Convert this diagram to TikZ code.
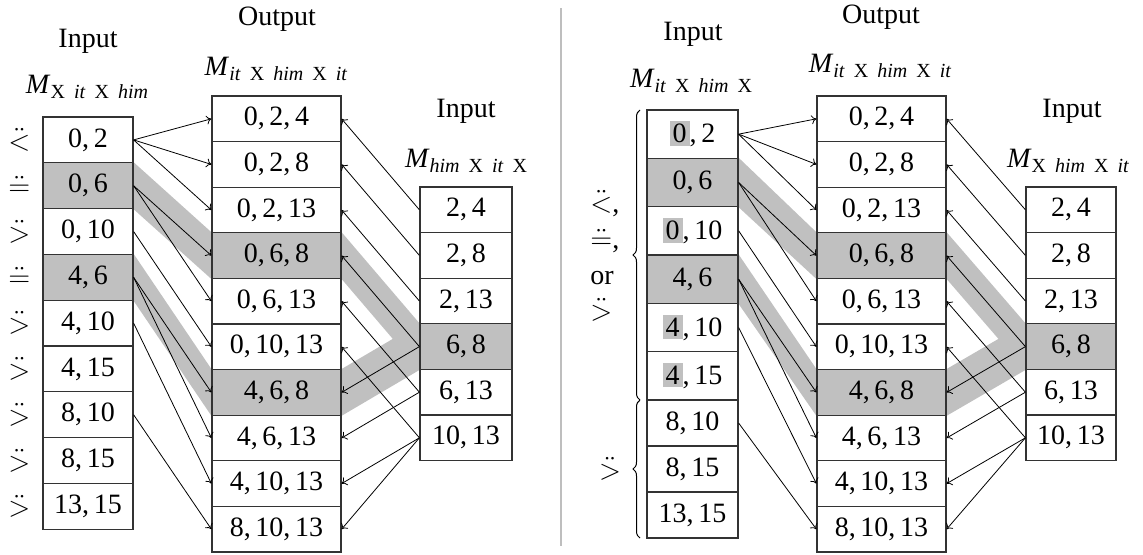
\documentclass[tikz,border=0pt]{standalone}
\usepackage{fontspec}
\setmainfont{Liberation Serif}
\usetikzlibrary{arrows.meta,decorations.pathreplacing,backgrounds}
\definecolor{lightg}{RGB}{192,192,192}
\definecolor{sepg}{RGB}{190,190,190}
\newcommand{\hlz}[1]{{\setlength{\fboxsep}{1.5pt}\colorbox{lightg}{#1}}}
\newcommand{\sx}{\hspace{4.5pt}}
\newcommand{\Msub}[1]{\textit{M}\raisebox{-2.5pt}{\fontsize{10pt}{12pt}\selectfont #1}}
\tikzset{
  cell/.style={draw=black!80, line width=0.6pt, inner sep=0pt, font=\fontsize{14pt}{17pt}\selectfont},
  lnk/.style={-{To[length=2.5pt,width=4.5pt]}, line width=0.4pt},
  hdr/.style={anchor=base, inner sep=0pt, font=\fontsize{14pt}{17pt}\selectfont},
  sym/.style={inner sep=0pt, font=\fontsize{14pt}{18pt}\selectfont},
  bracestyle/.style={decorate, decoration={brace, amplitude=3.5pt}, line width=0.5pt}
}
\begin{document}
\begin{tikzpicture}[x=0.5pt,y=-0.5pt]
\useasboundingbox (0,0) rectangle (1143,554);
% separator
\draw[sepg, line width=0.6pt] (561,8) -- (561,546);
% ---------- left panel ----------
\foreach \t/\f [count=\i] in {{0,\,2}/white,{0,\,6}/lightg,{0,\,10}/white,{4,\,6}/lightg,{4,\,10}/white,{4,\,15}/white,{8,\,10}/white,{8,\,15}/white,{13,\,15}/white}
  \node[cell, fill=\f, minimum width=45pt, minimum height=22.9pt] (A\i) at (88,{117+45.8*(\i-0.5)}) {\t};
\foreach \t/\f [count=\i] in {{0,\,2,\,4}/white,{0,\,2,\,8}/white,{0,\,2,\,13}/white,{0,\,6,\,8}/lightg,{0,\,6,\,13}/white,{0,\,10,\,13}/white,{4,\,6,\,8}/lightg,{4,\,6,\,13}/white,{4,\,10,\,13}/white,{8,\,10,\,13}/white}
  \node[cell, fill=\f, minimum width=64.5pt, minimum height=22.8pt] (B\i) at (276.5,{96+45.6*(\i-0.5)}) {\t};
\foreach \t/\f [count=\i] in {{2,\,4}/white,{2,\,8}/white,{2,\,13}/white,{6,\,8}/lightg,{6,\,13}/white,{10,\,13}/white}
  \node[cell, fill=\f, minimum width=46pt, minimum height=22.8pt] (C\i) at (466,{187+45.6*(\i-0.5)}) {\t};
\foreach \s [count=\i] in {<,=,>,=,>,>,>,>,>}
  \node[sym] (sA\i) at ([xshift=-11.5pt]A\i.west) {$\ddot{\s}$};
\node[hdr] (hA) at (88,47) {Input};
\node[hdr] (mA) at (87,93) {\Msub{X\sx\textit{it}\sx X\sx\textit{him}}};
\node[hdr] (hB) at (277,25) {Output};
\node[hdr] (mB) at (276,75) {\Msub{\textit{it}\sx X\sx\textit{him}\sx X\sx\textit{it}}};
\node[hdr] (hC) at (466,117) {Input};
\node[hdr] (mC) at (466,167) {\Msub{\textit{him}\sx X\sx\textit{it}\sx X}};
% ---------- right panel ----------
\foreach \t/\f/\yc/\hh [count=\i] in {{\hlz{0},\,2}/white/134.15/24.15pt,{0,\,6}/lightg/182.45/24.15pt,{\hlz{0},\,10}/white/230.75/24.15pt,{4,\,6}/lightg/279.15/24.15pt,{\hlz{4},\,10}/white/327.45/24.15pt,{\hlz{4},\,15}/white/375.85/24.15pt,{8,\,10}/white/423/23pt,{8,\,15}/white/469/23pt,{13,\,15}/white/515/23pt}
  \node[cell, fill=\f, minimum width=45.5pt, minimum height=\hh] (D\i) at (692.5,\yc) {\t};
\foreach \t/\f [count=\i] in {{0,\,2,\,4}/white,{0,\,2,\,8}/white,{0,\,2,\,13}/white,{0,\,6,\,8}/lightg,{0,\,6,\,13}/white,{0,\,10,\,13}/white,{4,\,6,\,8}/lightg,{4,\,6,\,13}/white,{4,\,10,\,13}/white,{8,\,10,\,13}/white}
  \node[cell, fill=\f, minimum width=64.5pt, minimum height=22.8pt] (E\i) at (881.5,{96+45.6*(\i-0.5)}) {\t};
\foreach \t/\f [count=\i] in {{2,\,4}/white,{2,\,8}/white,{2,\,13}/white,{6,\,8}/lightg,{6,\,13}/white,{10,\,13}/white}
  \node[cell, fill=\f, minimum width=45pt, minimum height=22.8pt] (F\i) at (1071,{187+45.6*(\i-0.5)}) {\t};
\node[hdr] (hD) at (693,40) {Input};
\node[hdr] (mD) at (691,87) {\Msub{\textit{it}\sx X\sx\textit{him}\sx X}};
\node[hdr] (hE) at (881,23) {Output};
\node[hdr] (mE) at (880,72) {\Msub{\textit{it}\sx X\sx\textit{him}\sx X\sx\textit{it}}};
\node[hdr] (hF) at (1072,117) {Input};
\node[hdr] (mF) at (1068,167) {\Msub{X\sx\textit{him}\sx X\sx\textit{it}}};
% braces and labels
\draw[bracestyle] (640,400) -- (640,110);
\draw[bracestyle] (640,538) -- (640,400);
\node[sym, align=left, anchor=west] (lbl1) at (590,256) {$\ddot{<}$,\\ $\ddot{=}$,\\ or\\ $\ddot{>}$};
\node[sym] (lbl2) at (610,469) {$\ddot{>}$};
% gray bands
\begin{scope}[on background layer]
\foreach \p/\q in {A2/B4,A4/B7,B4/C4,B7/C4,D2/E4,D4/E7,E4/F4,E7/F4}
  \fill[lightg] (\p.north east) -- (\q.north west) -- (\q.south west) -- (\p.south east) -- cycle;
\end{scope}
% arrows
\foreach \s/\d in {1/1,1/2,1/3,2/4,2/5,3/6,4/7,4/8,5/9,7/10} {
  \draw[lnk] (A\s.east) -- (B\d.west);
  \draw[lnk] (D\s.east) -- (E\d.west);
}
\foreach \s/\d in {1/1,2/2,3/3,4/4,4/7,5/5,5/8,6/6,6/9,6/10} {
  \draw[lnk] (C\s.west) -- (B\d.east);
  \draw[lnk] (F\s.west) -- (E\d.east);
}
\end{tikzpicture}
\end{document}
